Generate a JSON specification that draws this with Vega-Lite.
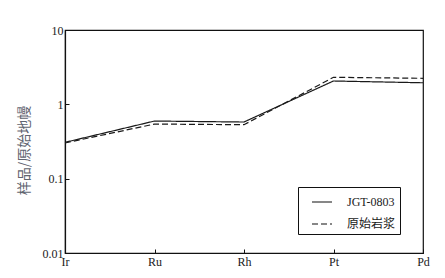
{
  "$schema": "https://vega.github.io/schema/vega-lite/v6.json",
  "autosize": "none",
  "width": 358,
  "height": 223,
  "padding": {"left": 65, "top": 30, "right": 22, "bottom": 25},
  "background": "white",
  "config": {
    "view": {"stroke": "#111", "strokeWidth": 1.2},
    "axis": {"labelFont": "Liberation Serif", "labelFontSize": 12, "labelColor": "#1a1a1a", "domainColor": "#111", "domainWidth": 1.2, "tickColor": "#111", "grid": false}
  },
  "data": {"values": [
    {"el": "Ir", "s": "JGT-0803", "v": 0.308},
    {"el": "Ru", "s": "JGT-0803", "v": 0.596},
    {"el": "Rh", "s": "JGT-0803", "v": 0.578},
    {"el": "Pt", "s": "JGT-0803", "v": 2.06},
    {"el": "Pd", "s": "JGT-0803", "v": 1.95},
    {"el": "Ir", "s": "原始岩浆", "v": 0.302},
    {"el": "Ru", "s": "原始岩浆", "v": 0.543},
    {"el": "Rh", "s": "原始岩浆", "v": 0.532},
    {"el": "Pt", "s": "原始岩浆", "v": 2.31},
    {"el": "Pd", "s": "原始岩浆", "v": 2.24}
  ]},
  "mark": {"type": "line", "strokeWidth": 1.2, "stroke": "#1a1a1a"},
  "encoding": {
    "x": {"field": "el", "type": "nominal", "sort": ["Ir", "Ru", "Rh", "Pt", "Pd"],
      "scale": {"type": "point", "padding": 0},
      "axis": {"title": null, "labelAngle": 0, "tickSize": -4, "labelPadding": 7}},
    "y": {"field": "v", "type": "quantitative",
      "scale": {"type": "log", "domain": [0.01, 10], "nice": false},
      "axis": {"title": "样品/原始地幔", "values": [0.01, 0.1, 1, 10], "format": "~g",
        "tickSize": -4, "labelPadding": 6,
        "titleFont": "Noto Sans CJK SC", "titleFontSize": 14, "titleFontWeight": "normal", "titleColor": "#5f6470",
        "titleX": -34, "titleY": 120}},
    "detail": {"field": "s", "type": "nominal"},
    "strokeDash": {"field": "s", "type": "nominal",
      "scale": {"domain": ["JGT-0803", "原始岩浆"], "range": [[1, 0], [6, 3]]},
      "legend": {"title": null, "orient": "none", "legendX": 233, "legendY": 157,
        "strokeColor": "#111", "padding": 4, "symbolType": "stroke", "symbolSize": 400, "symbolStrokeWidth": 1.2, "symbolStrokeColor": "#111", "symbolOffset": 9,
        "labelFont": "'Liberation Serif', 'Noto Sans CJK SC', serif", "labelFontSize": 12, "labelColor": "#1a1a1a", "labelOffset": 14, "rowPadding": 5}}
  }
}
